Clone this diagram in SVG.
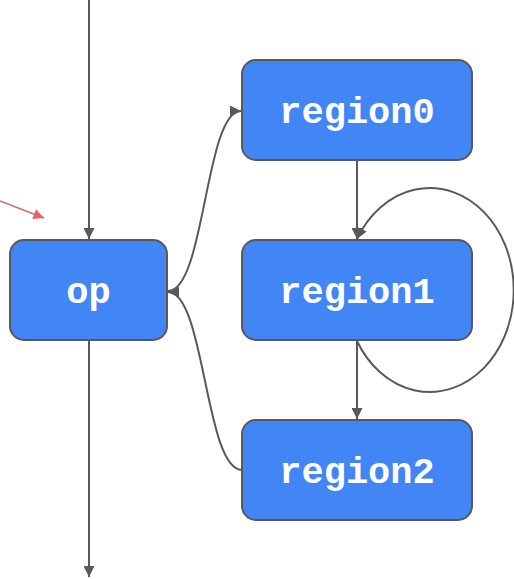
<svg xmlns="http://www.w3.org/2000/svg" width="514" height="579" viewBox="0 0 514 579">
  <style>
    .node rect { fill: #4285f4; stroke: #595959; stroke-width: 2; }
    .node text { fill: #ffffff; font-family: "Liberation Mono", "Courier New", monospace; font-weight: bold; font-size: 37px; text-anchor: middle; }
    .edge { fill: none; stroke: #595959; stroke-width: 2; }
    .hint { fill: none; stroke: #e06666; stroke-width: 1.5; }
  </style>
  <defs>
    <marker id="arrow" viewBox="0 0 10 10" refX="10" refY="5" markerWidth="7" markerHeight="5.5" markerUnits="strokeWidth" orient="auto">
      <path d="M0,0 L10,5 L0,10 Z" fill="#595959"/>
    </marker>
    <marker id="arrowRed" viewBox="0 0 10 10" refX="10" refY="5" markerWidth="8.5" markerHeight="7" markerUnits="strokeWidth" orient="auto">
      <path d="M0,0 L10,5 L0,10 Z" fill="#e06666"/>
    </marker>
  </defs>

  <g id="connectors">
    <path class="edge" d="M89,0 L89,239" marker-end="url(#arrow)"/>
    <path class="edge" d="M89,341 L89,577" marker-end="url(#arrow)"/>
    <path class="edge" d="M168,291 C205,291 205,111 241,111" marker-end="url(#arrow)"/>
    <path class="edge" d="M242,470 C205,470 205,292 168,292" marker-end="url(#arrow)"/>
    <path class="edge" d="M357,161 L357,239" marker-end="url(#arrow)"/>
    <path class="edge" d="M357,341 L357,419" marker-end="url(#arrow)"/>
    <path class="edge" d="M357,341 A84,102 0 1 0 357,239" marker-end="url(#arrow)"/>
    <path class="hint" d="M0,201 L44,218" marker-end="url(#arrowRed)"/>
  </g>

  <g id="op" class="node">
    <rect x="10" y="240" width="157" height="100" rx="14"/>
    <text x="88.5" y="303">op</text>
  </g>
  <g id="region0" class="node">
    <rect x="242" y="60" width="230" height="100" rx="14"/>
    <text x="357" y="123">region0</text>
  </g>
  <g id="region1" class="node">
    <rect x="242" y="240" width="230" height="100" rx="14"/>
    <text x="357" y="303">region1</text>
  </g>
  <g id="region2" class="node">
    <rect x="242" y="420" width="230" height="100" rx="14"/>
    <text x="357" y="483">region2</text>
  </g>
</svg>
